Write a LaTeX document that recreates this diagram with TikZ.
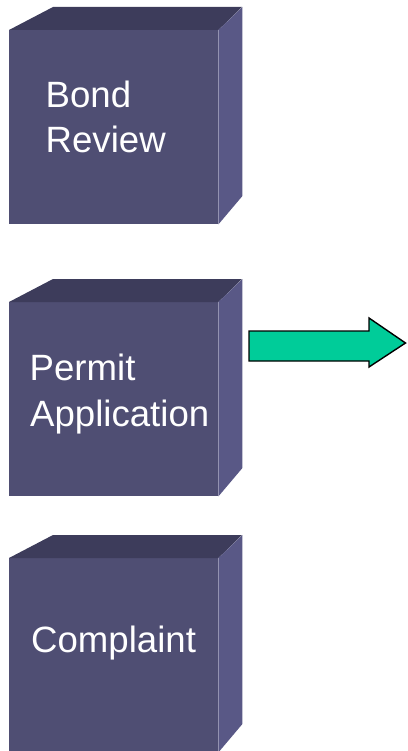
\documentclass[tikz,border=0pt]{standalone}
\usepackage{fontspec}
\setmainfont{Liberation Sans}
\definecolor{frontface}{RGB}{79,78,115}
\definecolor{topface}{RGB}{61,60,91}
\definecolor{sideface}{RGB}{89,88,134}
\definecolor{arrowgreen}{RGB}{0,204,153}
\tikzset{
  cubefront/.style={fill=frontface, draw=none, inner sep=0pt,
    minimum width=209pt, minimum height=194pt, anchor=north west},
  cubetop/.style={fill=topface},
  cubeside/.style={fill=sideface},
  cubetext/.style={text=white, inner sep=0pt, anchor=base west,
    font=\fontsize{36.6}{45}\selectfont},
  bigarrow/.style={fill=arrowgreen, draw=black, line width=1.4pt, line join=miter}
}
\begin{document}
\begin{tikzpicture}[x=1pt,y=-1pt]
\useasboundingbox (0,0) rectangle (407,751);

% three cubes: front face node, then top and side faces from its anchors
\foreach \name/\ytop in {bond/30, permit/302, complaint/558}{
  \node[cubefront] (\name) at (9,\ytop) {};
  \fill[cubetop] (\name.north west) -- ++(44,-23) -- ++(189,0)
    -- (\name.north east) -- cycle;
  \fill[cubeside] (\name.north east) -- ++(24,-23) -- ++(0,189)
    -- (\name.south east) -- cycle;
}

% labels
\node[cubetext] (bondA) at (45.5,108) {Bond};
\node[cubetext] (bondB) at (45.5,153) {Review};
\node[cubetext] (permitA) at (29.5,380) {Permit};
\node[cubetext] (permitB) at (30,426) {Application};
\node[cubetext] (complaintA) at (31,652) {Complaint};

% block arrow pointing right from the middle cube
\coordinate (arrowtail) at (249,346);
\draw[bigarrow] (arrowtail) ++(0,-15) -- (369,331) -- (369,318) -- (405.5,343)
  -- (369,367) -- (369,361) -- (249,361) -- cycle;
\end{tikzpicture}
\end{document}
